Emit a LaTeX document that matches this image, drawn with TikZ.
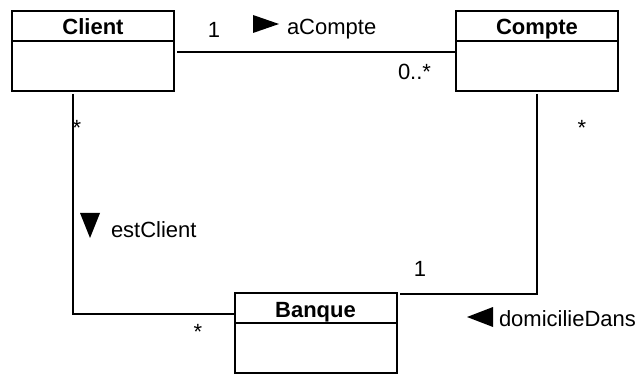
\documentclass[tikz,border=0pt]{standalone}
\usepackage{fontspec}
\setmainfont{Liberation Sans}
\usetikzlibrary{positioning}

\begin{document}
\begin{tikzpicture}[x=0.5pt,y=-0.5pt,line width=1pt,
		classname/.style={draw,outer sep=0pt,inner sep=0pt,minimum width=81pt,minimum height=15pt,text height=9pt,text depth=0pt,font=\fontsize{11}{13}\selectfont\bfseries},
		classbody/.style={draw,outer sep=0pt,inner sep=0pt,minimum width=81pt,minimum height=25pt},
		lbl/.style={inner sep=0pt,font=\fontsize{11}{13}\selectfont}]
			\useasboundingbox (0,0) rectangle (638,374);
			\clip (0,0) rectangle (638,374);
			
			% Klassen
			\node[classname] (clientH) at (93,26) {Client};
			\node[classbody, below=0pt of clientH] (clientB) {};
			\node[classname] (compteH) at (537,26) {Compte};
			\node[classbody, below=0pt of compteH] (compteB) {};
			\node[classname] (banqueH) at (315.5,308) {Banque};
			\node[classbody, below=0pt of banqueH] (banqueB) {};
			
			% Assoziationen
			\draw ([xshift=1.5pt,yshift=-5.5pt]clientB.north east) -- ([yshift=-5.5pt]compteB.north west);
			\draw ([xshift=-10pt,yshift=-1.5pt]clientB.south) |- ([yshift=4.5pt]banqueH.south west);
			\draw ([yshift=-1.5pt]compteB.south) |- ([xshift=1.5pt,yshift=-0.5pt]banqueH.north east);
			
			% Leserichtung
			\fill (253,15) -- (279,24) -- (253,33) -- cycle;
			\fill (80,213) -- (100,213) -- (90,238) -- cycle;
			\fill (493,307) -- (467,317) -- (493,327) -- cycle;
			
			% Multiplizitaeten und Namen
			\node[lbl, anchor=base] (mulCC) at (214,38) {1};
			\node[lbl, anchor=base west] (aCompte) at (286,35) {aCompte};
			\node[lbl, anchor=base west] (mulCompte) at (397,80) {0..*};
			\node[lbl, anchor=base] (mulClient) at (77,136) {*};
			\node[lbl, anchor=base] (mulCompteB) at (582,136) {*};
			\node[lbl, anchor=base west] (estClient) at (110,238) {estClient};
			\node[lbl, anchor=base] (mulBanqueCl) at (198,339) {*};
			\node[lbl, anchor=base] (mulBanqueCo) at (420,277) {1};
			\node[lbl, anchor=base west] (domicilie) at (498,326) {domicilieDans};
		\end{tikzpicture}
\end{document}
